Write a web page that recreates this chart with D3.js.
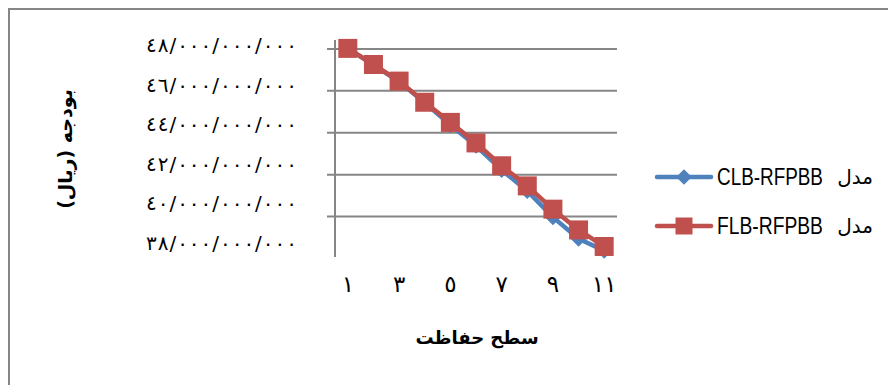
<!DOCTYPE html>
<html>
<head>
<meta charset="utf-8">
<script src="https://cdn.jsdelivr.net/npm/d3@7"></script>
<style>
  html, body { margin: 0; padding: 0; background: #fff; }
  svg { display: block; }
</style>
</head>
<body>
<svg id="chart" width="888" height="385"></svg>
<script>
// Protection levels (x axis) and budget per model, in billions of rials
const levels = [1, 2, 3, 4, 5, 6, 7, 8, 9, 10, 11];
const clbBudget = [48.0, 47.2, 46.42, 45.4, 44.35, 43.35, 42.2, 41.2, 39.95, 38.92, 38.35];
const flbBudget = [48.0, 47.23, 46.44, 45.43, 44.47, 43.49, 42.4, 41.44, 40.33, 39.34, 38.55];

const xTickLevels = [1, 3, 5, 7, 9, 11];
const yTickValues = [38, 40, 42, 44, 46, 48];

const seriesNames = ["مدل CLB-RFPBB", "مدل FLB-RFPBB"];
const xTitle = "سطح حفاظت";
const yTitle = "بودجه (ریال)";

const BLUE = "#4F81BD";
const RED = "#C0504D";
const GRID = "#868686";
const ARABIC_FONT = "'DejaVu Sans', sans-serif";

// Western digits -> Arabic-Indic digits
const toArabicDigits = s => String(s).replace(/[0-9]/g, d => String.fromCharCode(0x0660 + +d));
// 48 (billions) -> ٤٨/٠٠٠/٠٠٠/٠٠٠
const fmtBudget = v => toArabicDigits(d3.format(",")(Math.round(v * 1e9))).replace(/,/g, "/");

const svg = d3.select("#chart");

// outer frame
svg.append("rect")
  .attr("x", 9).attr("y", 9)
  .attr("width", 900).attr("height", 400)
  .attr("fill", "none").attr("stroke", GRID).attr("stroke-width", 2);

const plot = { left: 335, right: 617, top: 40, bottom: 258 };

const x = d3.scalePoint()
  .domain(levels)
  .range([plot.left, plot.right])
  .padding(0.5);

const y = d3.scaleLinear()
  .domain([38, 48.4])
  .range([plot.bottom, plot.top]);

// value labels sit in their own slightly tighter column
const yLabel = d3.scaleLinear()
  .domain([38, 48])
  .range([243, 45]);

// horizontal gridlines (with outside tick stubs)
const grid = svg.append("g")
  .attr("transform", `translate(${plot.right},0)`)
  .call(d3.axisLeft(y)
    .tickValues(yTickValues.filter(v => v > 38))
    .tickSize(plot.right - plot.left + 8)
    .tickSizeOuter(0)
    .tickFormat(""));
grid.select(".domain").remove();
grid.selectAll(".tick line").attr("stroke", GRID).attr("stroke-width", 2);

// vertical axis line
svg.append("line")
  .attr("x1", plot.left).attr("x2", plot.left)
  .attr("y1", plot.top).attr("y2", plot.bottom - 1)
  .attr("stroke", GRID).attr("stroke-width", 2);

// y tick labels, spread to a fixed column width
svg.append("g").selectAll("text")
  .data(yTickValues)
  .join("text")
  .attr("x", 146)
  .attr("y", d => yLabel(d))
  .attr("dy", "0.35em")
  .attr("font-family", ARABIC_FONT)
  .attr("font-size", 20)
  .attr("textLength", 151)
  .attr("lengthAdjust", "spacing")
  .attr("fill", "#000")
  .text(fmtBudget);

// x tick labels
svg.append("g").selectAll("text")
  .data(xTickLevels)
  .join("text")
  .attr("x", d => x(d))
  .attr("y", 284)
  .attr("dy", "0.35em")
  .attr("text-anchor", "middle")
  .attr("font-family", ARABIC_FONT)
  .attr("font-size", 23)
  .attr("letter-spacing", 2)
  .attr("fill", "#000")
  .text(d => toArabicDigits(d));

// axis titles
svg.append("text")
  .attr("x", 477).attr("y", 338)
  .attr("dy", "0.35em")
  .attr("text-anchor", "middle")
  .attr("font-family", ARABIC_FONT)
  .attr("font-weight", "bold")
  .attr("font-size", 18)
  .text(xTitle);

svg.append("text")
  .attr("transform", "translate(65,149) rotate(-90)")
  .attr("dy", "0.35em")
  .attr("text-anchor", "middle")
  .attr("font-family", ARABIC_FONT)
  .attr("font-weight", "bold")
  .attr("font-size", 19)
  .text(yTitle);

// series
const line = d3.line()
  .x((d, i) => x(levels[i]))
  .y(d => y(d));

const diamond = d3.symbol().type(d3.symbolSquare).size(128);
const square = d3.symbol().type(d3.symbolSquare).size(361);

const series = [
  { name: seriesNames[0], values: clbBudget, color: BLUE, marker: diamond, rotate: 45 },
  { name: seriesNames[1], values: flbBudget, color: RED, marker: square, rotate: 0 }
];

series.forEach(s => {
  const g = svg.append("g");
  g.append("path")
    .attr("d", line(s.values))
    .attr("fill", "none")
    .attr("stroke", s.color)
    .attr("stroke-width", 4.5)
    .attr("stroke-linejoin", "round")
    .attr("stroke-linecap", "round");
  g.selectAll("path.mark")
    .data(s.values)
    .join("path")
    .attr("class", "mark")
    .attr("d", s.marker())
    .attr("transform", (d, i) => `translate(${x(levels[i])},${y(d)}) rotate(${s.rotate})`)
    .attr("fill", s.color);
});

// legend
const legendSquare = d3.symbol().type(d3.symbolSquare);
const legend = svg.append("g");
const legendRows = [
  { s: series[0], cy: 177, marker: legendSquare.size(120)(), rotate: 45 },
  { s: series[1], cy: 226, marker: legendSquare.size(289)(), rotate: 0 }
];
const CODE_WIDTH = 106;
legendRows.forEach(r => {
  legend.append("line")
    .attr("x1", 657).attr("x2", 711)
    .attr("y1", r.cy).attr("y2", r.cy)
    .attr("stroke", r.s.color).attr("stroke-width", 4.5)
    .attr("stroke-linecap", "round");
  legend.append("path")
    .attr("d", r.marker)
    .attr("transform", `translate(684,${r.cy}) rotate(${r.rotate})`)
    .attr("fill", r.s.color);
  const [word, code] = r.s.name.split(" ");
  // Latin model code, horizontally condensed
  const codeText = legend.append("text")
    .attr("x", 0).attr("y", 0)
    .attr("dy", "0.36em")
    .attr("font-family", "'Liberation Sans', Arial, sans-serif")
    .attr("font-size", 23)
    .attr("fill", "#000")
    .text(code);
  const k = CODE_WIDTH / codeText.node().getComputedTextLength();
  codeText.attr("transform", `translate(717,${r.cy}) scale(${k},1)`);
  // Persian word to its right
  legend.append("text")
    .attr("x", 873).attr("y", r.cy)
    .attr("dy", "0.36em")
    .attr("text-anchor", "end")
    .attr("font-family", ARABIC_FONT)
    .attr("font-size", 20)
    .attr("fill", "#000")
    .text(word);
});
</script>
</body>
</html>
